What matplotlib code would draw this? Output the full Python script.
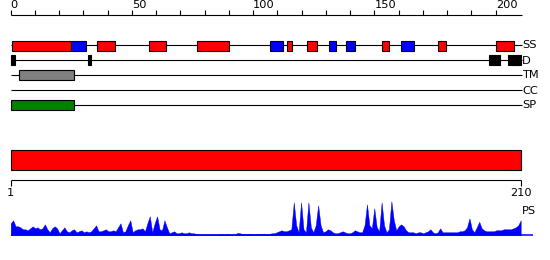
import matplotlib
matplotlib.use("Agg")
import matplotlib.pyplot as plt
import numpy as np

# ---------------- data ----------------
seq_len = 210
top_ticks = list(range(0, 201, 10))
top_labels = [0, 50, 100, 150, 200]

track_names = ["SS", "D", "TM", "CC", "SP"]

ss_start = [0.7, 24.8, 35.7, 56.9, 76.7, 106.9, 114.0, 122.2, 131.2, 138.3, 153.1, 161.0, 176.3, 200.2]
ss_end   = [24.8, 31.0, 43.0, 64.0, 90.0, 112.2, 116.1, 126.4, 134.3, 142.1, 156.2, 166.5, 179.3, 207.4]
ss_type  = ["H", "E", "H", "H", "H", "E", "H", "H", "E", "E", "H", "E", "H", "H"]

d_start = [0.0, 31.7, 197.2, 205.0]
d_end   = [1.6, 33.2, 201.7, 210.3]

tm_start = [3.6]
tm_end   = [25.9]

sp_start = [0.0]
sp_end   = [25.9]

# PS profile (residues 1..210)
ps = [12, 15, 9, 9, 8, 6, 6, 5, 7, 9,
      7, 8, 6, 7, 11, 6, 3, 7, 9, 7,
      2, 5, 8, 4, 3, 5, 6, 3, 4, 5,
      3, 4, 3, 4, 7, 10, 4, 4, 5, 6,
      4, 4, 5, 4, 8, 12, 3, 4, 10, 15,
      3, 5, 6, 6, 7, 4, 12, 19, 3, 12,
      19, 6, 5, 15, 8, 2, 3, 4, 2, 2,
      3, 2, 2, 3, 2, 2, 1.5, 1, 1, 1,
      1, 1, 1, 1, 1, 1, 1.5, 1, 1, 1.5,
      1, 1, 1, 2.5, 2, 1.5, 1.5, 1.5, 1.5, 1.5,
      1, 1.5, 1.5, 1.5, 1.5, 1.5, 1.5, 2, 2, 3,
      4, 5, 4, 4, 5, 6, 33, 10, 3, 33,
      6, 3, 33, 8, 3, 10, 30, 10, 3, 4,
      6, 5, 3, 2, 2, 3, 4, 3, 2, 2,
      3, 5, 4, 3, 3, 10, 31, 10, 7, 27,
      8, 4, 33, 10, 3, 6, 34, 15, 5, 9,
      11, 9, 5, 3, 3, 3, 2, 3, 3, 2,
      3, 4, 6, 3, 2, 3, 7, 3, 3, 3,
      3, 3, 3, 3, 4, 4, 5, 8, 17, 6,
      3, 8, 13.5, 7, 5, 4, 4, 4, 4, 5,
      5, 5, 6, 6, 6, 6, 7, 8, 10, 15]
residues = np.arange(1, len(ps) + 1)

# ---------------- layout ----------------
W, H = 550, 260
fig = plt.figure(figsize=(W / 100, H / 100), dpi=100)

x0 = 10.7
top_scale = 2.425
bot_scale = 510.0 / 209.0

axt = fig.add_axes([0, 0, 1, 1])
axt.set_xlim(-x0 / top_scale, (W - x0) / top_scale)
axt.set_ylim(H, 0)
axt.axis("off")

axb = fig.add_axes([0, 0, 1, 1])
axb.set_xlim(1 - x0 / bot_scale, 1 + (W - x0) / bot_scale)
axb.set_ylim(H, 0)
axb.axis("off")
axb.patch.set_alpha(0)

lw = 0.8
fs = 8.2

# top ruler
axt.plot([0, seq_len + 0.8], [15, 15], color="black", lw=lw, solid_capstyle="butt")
axt.vlines(top_ticks, 10, 15, color="black", lw=lw)
for t in top_labels:
    axt.text(t, 0.5, str(t), ha="left", va="top", fontsize=fs, color="black")

track_y = [45, 60, 75, 90, 105]
for name, y in zip(track_names, track_y):
    axt.plot([0, seq_len + 0.8], [y, y], color="black", lw=lw, zorder=1, solid_capstyle="butt")
    axt.text(seq_len + 0.9, y + 0.5, name, ha="left", va="center", fontsize=fs, color="black")

bh = 10
ss_col = {"H": "#ff0000", "E": "#0000ff"}
axt.barh([45.5] * len(ss_start), np.array(ss_end) - np.array(ss_start), left=ss_start,
         height=bh, color=[ss_col[t] for t in ss_type], edgecolor="black", linewidth=lw, zorder=2)
axt.barh([60.3] * len(d_start), np.array(d_end) - np.array(d_start), left=d_start,
         height=bh, color="black", edgecolor="black", linewidth=lw, zorder=2)
axt.barh([75.2] * len(tm_start), np.array(tm_end) - np.array(tm_start), left=tm_start,
         height=bh, color="#808080", edgecolor="black", linewidth=lw, zorder=2)
axt.barh([105.2] * len(sp_start), np.array(sp_end) - np.array(sp_start), left=sp_start,
         height=bh, color="#008000", edgecolor="black", linewidth=lw, zorder=2)

# bottom: full-length bar and ruler
axb.barh([160.2], [seq_len - 1], left=[1], height=20, color="#ff0000",
         edgecolor="black", linewidth=lw)
axb.plot([1, seq_len], [180.3, 180.3], color="black", lw=lw, solid_capstyle="butt")
axb.vlines([1, seq_len], 180.3, 186, color="black", lw=lw)
axb.text(1, 188.5, "1", ha="center", va="top", fontsize=fs)
axb.text(seq_len, 188.5, "210", ha="center", va="top", fontsize=fs)
axb.text(seq_len + 0.4, 211, "PS", ha="left", va="center", fontsize=fs)

# profile
base = 235.3
axb.fill_between(residues, base, base - np.array(ps), color="#0000ff", linewidth=0.3,
                 edgecolor="#0000ff")
axb.plot([1, 214.9], [base, base], color="#0000ff", lw=1.1, solid_capstyle="butt")

fig.savefig("out.png", dpi=100)
